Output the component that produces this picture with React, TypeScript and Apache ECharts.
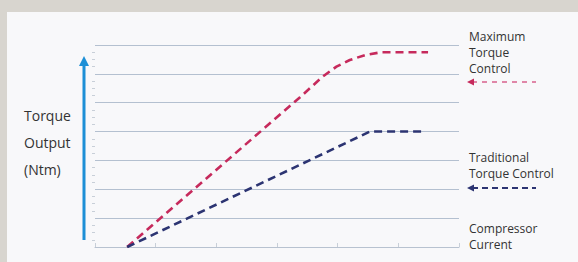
import React, { useEffect, useRef } from "react";
import * as echarts from "echarts";

const maxTorque: [number, number][] = [
  [0.53, 0], [3.38, 5.19], [3.75, 5.9], [3.98, 6.25], [4.2, 6.48], [4.45, 6.65], [4.72, 6.75], [5.49, 6.75],
];
const traditionalTorque: [number, number][] = [
  [0.53, 0], [4.53, 4.0], [5.4, 4.0],
];
const yAxisTitle = ["Torque", "Output", "(Ntm)"];
const maxLabel = ["Maximum", "Torque", "Control"];
const tradLabel = ["Traditional", "Torque Control"];
const xAxisTitle = ["Compressor", "Current"];

const RED = "#c62a5c";
const NAVY = "#2c3472";
const FONT = "'Open Sans', 'Liberation Sans', sans-serif";

export default function App() {
  const ref = useRef<HTMLDivElement>(null);
  useEffect(() => {
    const chart = echarts.init(ref.current!, null, { renderer: "svg" });
    const txt = (x: number, y: number, s: string, size: number) => ({
      type: "text", x, y, z: 10,
      style: { text: s, fill: "#333", font: `${size}px ${FONT}`, textVerticalAlign: "middle" },
    });
    const legendArrow = (y: number, color: string, dashColor: string, dash: number[]) => [
      { type: "line", z: 10, shape: { x1: 472, y1: y, x2: 536, y2: y },
        style: { stroke: dashColor, lineWidth: 2, lineDash: dash } },
      { type: "polygon", z: 10, shape: { points: [[467, y], [474, y - 3.5], [474, y + 3.5]] },
        style: { fill: color } },
    ];
    chart.setOption({
      animation: false,
      backgroundColor: "#d8d5cf",
      grid: { left: 95, right: 119, top: 45, bottom: 15 },
      xAxis: {
        type: "value", min: 0, max: 6, interval: 1,
        axisLine: { show: true, lineStyle: { color: "#b8c2d0", width: 1 } },
        axisTick: { show: true, inside: true, length: 4, lineStyle: { color: "#c8cfd8" } },
        axisLabel: { show: false },
        splitLine: { show: false },
      },
      yAxis: {
        type: "value", min: 0, max: 7, interval: 1,
        axisLine: { show: false },
        axisTick: { show: false },
        minorTick: { show: true, splitNumber: 4, length: 3, lineStyle: { color: "#c8cfd8" } },
        axisLabel: { show: false },
        splitLine: { show: true, lineStyle: { color: "#b4c0d0", width: 1.2 } },
      },
      graphic: [
        { type: "rect", z: -10, shape: { x: 7, y: 12, width: 571, height: 250 },
          style: { fill: "#f8f8fa" } },
        { type: "line", z: 10, shape: { x1: 84, y1: 240, x2: 84, y2: 64 },
          style: { stroke: "#1d8fd6", lineWidth: 3 } },
        { type: "polygon", z: 10, shape: { points: [[84, 56], [79, 66], [89, 66]] },
          style: { fill: "#1d8fd6" } },
        ...yAxisTitle.map((s, i) => txt(24, 115 + i * 27, s, 14)),
        ...maxLabel.map((s, i) => txt(469, 36 + i * 16, s, 12)),
        ...legendArrow(82, RED, "#e087a8", [5, 5]),
        ...tradLabel.map((s, i) => txt(469, 157 + i * 16, s, 12)),
        ...legendArrow(188, NAVY, NAVY, [6, 4]),
        ...xAxisTitle.map((s, i) => txt(469, 228 + i * 16, s, 12)),
      ],
      series: [
        {
          type: "line", data: maxTorque, symbol: "none", smooth: false,
          lineStyle: { color: RED, width: 2.6, type: [8, 5] },
        },
        {
          type: "line", data: traditionalTorque, symbol: "none",
          lineStyle: { color: NAVY, width: 2.6, type: [8, 5] },
        },
      ],
    });
    return () => chart.dispose();
  }, []);
  return (
    <div style={{ position: "fixed", left: 0, top: 0, width: 578, height: 262 }}>
      <div ref={ref} style={{ width: 578, height: 262 }} />
    </div>
  );
}
